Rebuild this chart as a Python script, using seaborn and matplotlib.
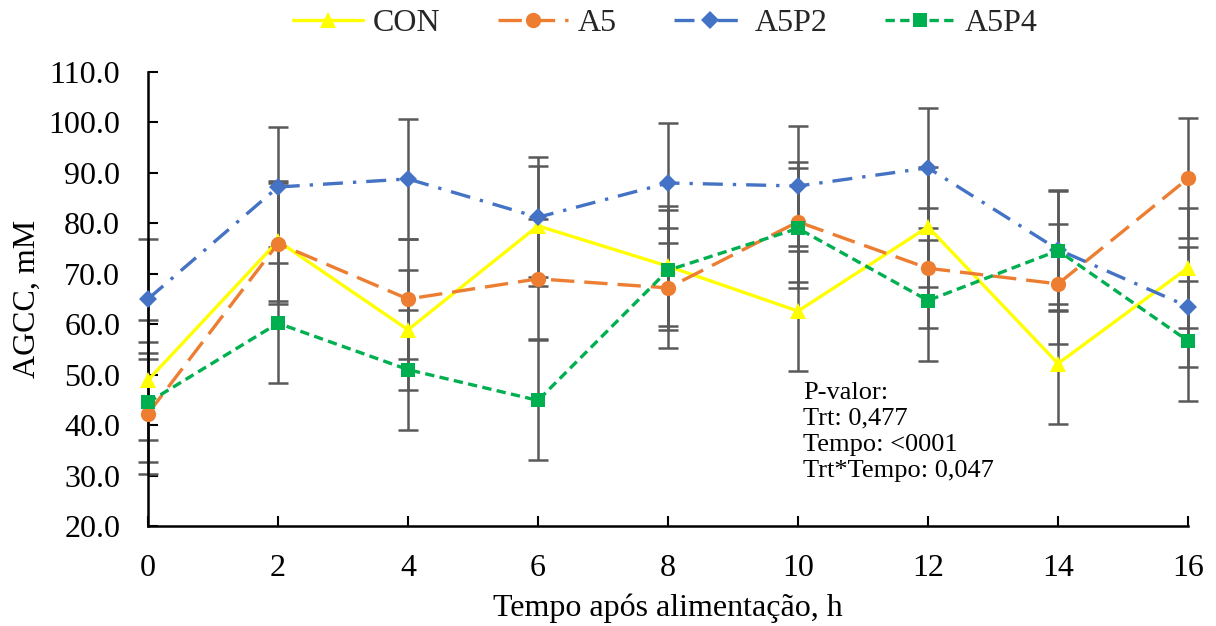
import pandas as pd
import matplotlib.pyplot as plt
import seaborn as sns

# values
tempo = [0, 2, 4, 6, 8, 10, 12, 14, 16]
con = [48.9, 76.5, 58.9, 79.5, 71.5, 62.6, 79.3, 52.2, 71.2]
a5 = [42.3, 76.0, 65.0, 69.0, 67.2, 80.3, 71.1, 68.0, 88.9]
a5p2 = [65.0, 87.2, 88.8, 81.2, 88.0, 87.4, 91.0, 74.8, 63.5]
a5p4 = [44.5, 60.2, 51.0, 44.9, 70.7, 79.0, 64.7, 74.6, 56.7]
epm = [11.9, 11.9, 11.9, 11.9, 11.9, 11.9, 11.9, 11.9, 11.9]

trts = ['CON', 'A5', 'A5P2', 'A5P4']
series = {'CON': con, 'A5': a5, 'A5P2': a5p2, 'A5P4': a5p4}

rows = []
for t in trts:
    for x, v in zip(tempo, series[t]):
        rows.append({'Tempo': x, 'AGCC': v, 'Trt': t})
df = pd.DataFrame(rows)

sns.set_theme(style="white")
plt.rcParams['font.family'] = ['Liberation Serif', 'DejaVu Serif']

colors = {'CON': '#FFFF00', 'A5': '#ED7D31', 'A5P2': '#4472C4', 'A5P4': '#00B050'}
markers = {'CON': '^', 'A5': 'o', 'A5P2': 'D', 'A5P4': 's'}
dashes = {'CON': '', 'A5': (7, 3), 'A5P2': (6, 3, 1, 3), 'A5P4': (2.8, 1.6)}
msize = {'CON': 12, 'A5': 11, 'A5P2': 9.5, 'A5P4': 10.5}
fs = 23

fig = plt.figure(figsize=(12.16, 6.26), dpi=100)
ax = fig.add_axes([0.1217, 0.1597, 0.8553, 0.7253])

# error bars (grey, same pooled SEM for all treatments)
for t in trts:
    ax.errorbar(tempo, series[t], yerr=epm, fmt='none', ecolor='#595959',
                elinewidth=1.8, capsize=7, capthick=1.8, zorder=1, clip_on=False)

sns.lineplot(data=df, x='Tempo', y='AGCC', hue='Trt', style='Trt',
             hue_order=trts, style_order=trts, palette=colors,
             markers=markers, dashes=dashes, linewidth=2.4,
             markeredgewidth=0, ax=ax, legend=False, zorder=3)
for line, t in zip(ax.get_lines()[-4:], trts):
    line.set_markersize(msize[t])
    line.set_clip_on(False)

ax.set_xlim(0, 16)
ax.set_ylim(20, 110)
ax.set_xticks(tempo)
ax.set_yticks(range(20, 111, 10))
ax.set_yticklabels([f'{v:.1f}' for v in range(20, 111, 10)])
ax.tick_params(axis='both', direction='in', length=7, width=1.5, color='black',
               labelsize=fs, labelcolor='black', left=True, bottom=True)
ax.tick_params(axis='y', pad=20)
ax.tick_params(axis='x', pad=20)
for s in ['top', 'right']:
    ax.spines[s].set_visible(False)
for s in ['left', 'bottom']:
    ax.spines[s].set_color('black')
    ax.spines[s].set_linewidth(1.8)

ax.set_xlabel('Tempo após alimentação, h', fontsize=fs, color='black', labelpad=8)
ax.set_ylabel('AGCC, mM', fontsize=fs, color='black', labelpad=5)

ax.text(10.08, 48.6, 'P-valor:\nTrt: 0,477\nTempo: <0001\nTrt*Tempo: 0,047',
        fontsize=19, va='top', ha='left', color='black', linespacing=1.24)

handles = []
for t in trts:
    h, = ax.plot([], [], color=colors[t], marker=markers[t], markersize=msize[t],
                 markeredgewidth=0, linewidth=2.4)
    if dashes[t]:
        h.set_dashes(dashes[t])
    handles.append(h)
fig.legend(handles, trts, loc='center', bbox_to_anchor=(0.547, 0.962), ncol=4,
           frameon=False, fontsize=fs, handlelength=2.2, columnspacing=1.8,
           handletextpad=0.3)

plt.savefig('out.png', dpi=100)
